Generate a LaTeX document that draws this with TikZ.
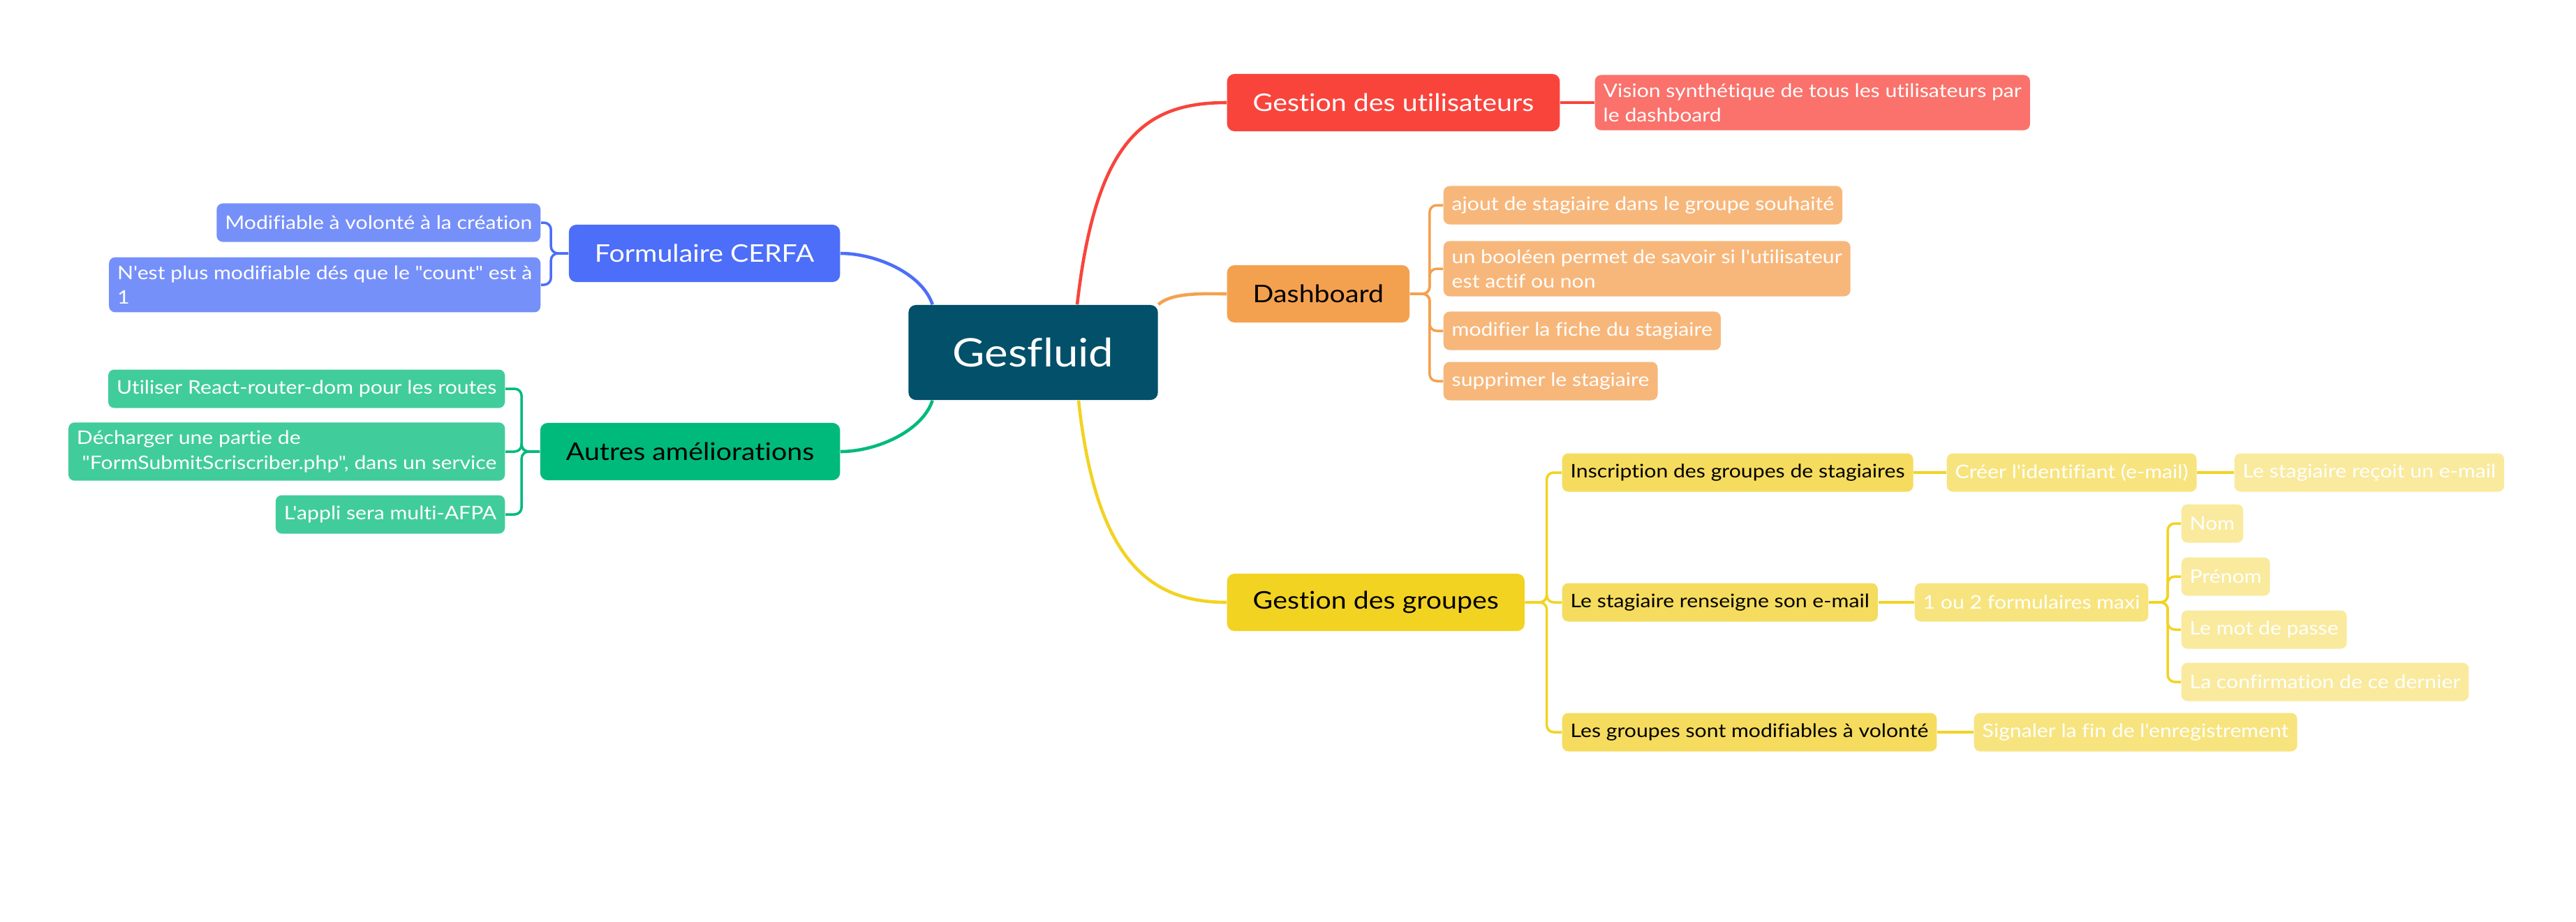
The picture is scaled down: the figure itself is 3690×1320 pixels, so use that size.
\documentclass[tikz,border=0pt]{standalone}
\usepackage{fontspec}
\setmainfont{Lato}[FakeStretch=1.13,Ligatures={TeXOff,CommonOff}]
\usetikzlibrary{positioning,calc}

\definecolor{rootcol}{HTML}{02506A}
\definecolor{usrmain}{HTML}{F9443C}
\definecolor{usrsub}{HTML}{FA726B}
\definecolor{dashmain}{HTML}{F4A14F}
\definecolor{dashsub}{HTML}{F7B77B}
\definecolor{grpmain}{HTML}{F2D322}
\definecolor{grpsub}{HTML}{F5DC5E}
\definecolor{grpsubb}{HTML}{F7E47F}
\definecolor{grpsubc}{HTML}{F9EA9E}
\definecolor{cerfamain}{HTML}{4C6EF8}
\definecolor{cerfasub}{HTML}{7690FA}
\definecolor{autmain}{HTML}{00BA7B}
\definecolor{autsub}{HTML}{41CC9C}

\tikzset{
  rootbox/.style={rectangle,rounded corners=3pt,fill=rootcol,text=white,
    minimum width=3.57cm,minimum height=1.36cm,
    font=\fontsize{16}{19}\selectfont},
  mainbox/.style={rectangle,rounded corners=3pt,inner xsep=0.37cm,
    minimum height=0.82cm,font=\fontsize{9.9}{12}\selectfont},
  subbox/.style={rectangle,rounded corners=2.5pt,inner xsep=0.12cm,
    inner ysep=0.12cm,minimum height=0.55cm,align=left,
    font=\fontsize{7.6}{10}\selectfont},
  branch/.style={line width=1.3pt},
  link/.style={line width=1pt,rounded corners=0.1cm}
}

\begin{document}
\begin{tikzpicture}[x=0.01cm,y=-0.01cm]
  \useasboundingbox (0,0) rectangle (3690,1320);

  \node[rootbox] (root) at (1480,505) {Gesfluid};

  % droite
  \node[mainbox,fill=usrmain,text=white,anchor=west] (usr) at (1757,147) {Gestion des utilisateurs};
  \node[subbox,fill=usrsub,text=white,anchor=west] (vision) at (2284,147)
    {Vision synthétique de tous les utilisateurs par\\le dashboard};

  \node[mainbox,fill=dashmain,anchor=west] (dash) at (1757,421) {Dashboard};
  \node[subbox,fill=dashsub,text=white,anchor=west] (d1) at (2067,294) {ajout de stagiaire dans le groupe souhaité};
  \node[subbox,fill=dashsub,text=white,anchor=west] (d2) at (2067,385)
    {un booléen permet de savoir si l'utilisateur\\est actif ou non};
  \node[subbox,fill=dashsub,text=white,anchor=west] (d3) at (2067,474) {modifier la fiche du stagiaire};
  \node[subbox,fill=dashsub,text=white,anchor=west] (d4) at (2067,546) {supprimer le stagiaire};

  \node[mainbox,fill=grpmain,anchor=west] (grp) at (1757,863) {Gestion des groupes};
  \node[subbox,fill=grpsub,anchor=west] (g1) at (2237,677) {Inscription des groupes de stagiaires};
  \node[subbox,fill=grpsubb,text=white,anchor=west] (g11) at (2788,677) {Créer l'identifiant (e-mail)};
  \node[subbox,fill=grpsubc,text=white,anchor=west] (g111) at (3200,677) {Le stagiaire reçoit un e-mail};
  \node[subbox,fill=grpsub,anchor=west] (g2) at (2237,863) {Le stagiaire renseigne son e-mail};
  \node[subbox,fill=grpsubb,text=white,anchor=west] (g21) at (2742,863) {1 ou 2 formulaires maxi};
  \node[subbox,fill=grpsubc,text=white,anchor=west] (g211) at (3124,750) {Nom};
  \node[subbox,fill=grpsubc,text=white,anchor=west] (g212) at (3124,826) {Prénom};
  \node[subbox,fill=grpsubc,text=white,anchor=west] (g213) at (3124,902) {Le mot de passe};
  \node[subbox,fill=grpsubc,text=white,anchor=west] (g214) at (3124,977) {La confirmation de ce dernier};
  \node[subbox,fill=grpsub,anchor=west] (g3) at (2237,1049) {Les groupes sont modifiables à volonté};
  \node[subbox,fill=grpsubb,text=white,anchor=west] (g31) at (2827,1049) {Signaler la fin de l'enregistrement};

  % gauche
  \node[mainbox,fill=cerfamain,text=white,anchor=east] (cerfa) at (1204,363) {Formulaire CERFA};
  \node[subbox,fill=cerfasub,text=white,anchor=east] (c1) at (775,319) {Modifiable à volonté à la création};
  \node[subbox,fill=cerfasub,text=white,anchor=east] (c2) at (775,408)
    {N'est plus modifiable dés que le "count" est à\\1};

  \node[mainbox,fill=autmain,anchor=east] (aut) at (1204,647) {Autres améliorations};
  \node[subbox,fill=autsub,text=white,anchor=east] (a1) at (724,557) {Utiliser React-router-dom pour les routes};
  \node[subbox,fill=autsub,text=white,anchor=east] (a2) at (724,647)
    {Décharger une partie de\\\ "FormSubmitScriscriber.php", dans un service};
  \node[subbox,fill=autsub,text=white,anchor=east] (a3) at (724,737) {L'appli sera multi-AFPA};

  % branches
  \draw[branch,usrmain] ($(root.north)+(63,0)$) .. controls +(27,-237) and +(-117,0) .. (usr.west);
  \draw[branch,dashmain] (root.north east) .. controls +(20,-18) and +(-30,0) .. (dash.west);
  \draw[branch,grpmain] ($(root.south)+(65,0)$) .. controls +(25,230) and +(-110,0) .. (grp.west);
  \draw[branch,cerfamain] ($(root.north west)+(35,0)$) .. controls +(-15,-45) and +(50,0) .. (cerfa.east);
  \draw[branch,autmain] ($(root.south west)+(35,0)$) .. controls +(-15,45) and +(50,0) .. (aut.east);

  \draw[link,usrmain] (usr.east) -- (vision.west);
  \foreach \n in {d1,d2,d3,d4}
    \draw[link,dashmain] (dash.east) -- ++(28,0) |- (\n.west);
  \foreach \n in {g1,g2,g3}
    \draw[link,grpmain] (grp.east) -- ++(31,0) |- (\n.west);
  \draw[link,grpmain] (g1.east) -- (g11.west);
  \draw[link,grpmain] (g11.east) -- (g111.west);
  \draw[link,grpmain] (g2.east) -- (g21.west);
  \foreach \n in {g211,g212,g213,g214}
    \draw[link,grpmain] (g21.east) -- ++(27,0) |- (\n.west);
  \draw[link,grpmain] (g3.east) -- (g31.west);
  \foreach \n in {c1,c2}
    \draw[link,cerfamain] (cerfa.west) -- ++(-25,0) |- (\n.east);
  \foreach \n in {a1,a2,a3}
    \draw[link,autmain] (aut.west) -- ++(-26,0) |- (\n.east);
\end{tikzpicture}
\end{document}
